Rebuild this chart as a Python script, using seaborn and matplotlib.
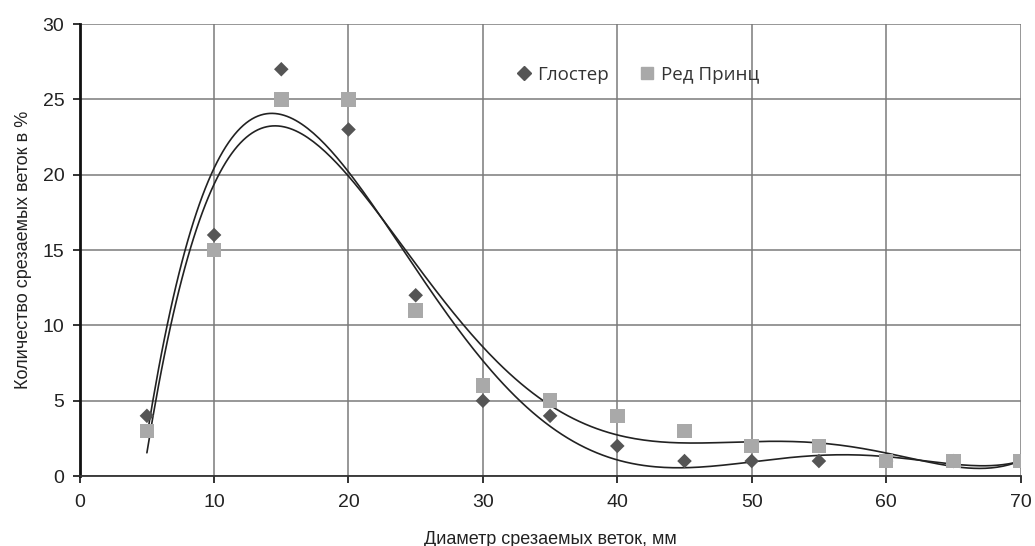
import matplotlib
matplotlib.use("Agg")
import matplotlib.pyplot as plt
import numpy as np
import pandas as pd
import seaborn as sns

DIAMETER = [5, 10, 15, 20, 25, 30, 35, 40, 45, 50, 55, 60, 65, 70]
GLOSTER = [4, 16, 27, 23, 12, 5, 4, 2, 1, 1, 1, 1, 1, 1]
RED_PRINCE = [3, 15, 25, 25, 11, 6, 5, 4, 3, 2, 2, 1, 1, 1]
SERIES_NAMES = ["Глостер", "Ред Принц"]
X_TICKS = [0, 10, 20, 30, 40, 50, 60, 70]
Y_TICKS = [0, 5, 10, 15, 20, 25, 30]
TREND_ORDER = 5


def build_frame() -> pd.DataFrame:
    rows = []
    for name, values in zip(SERIES_NAMES, [GLOSTER, RED_PRINCE]):
        for x, y in zip(DIAMETER, values):
            rows.append({"diameter": x, "share": y, "variety": name})
    return pd.DataFrame(rows)


def main() -> None:
    sns.set_theme(style="white")
    plt.rcParams["font.family"] = ["Liberation Sans", "DejaVu Sans"]

    df = build_frame()
    fig, ax = plt.subplots(figsize=(10.35, 5.46), dpi=100)
    fig.subplots_adjust(left=0.077, right=0.986, top=0.956, bottom=0.128)

    # polynomial trendlines, as in the spreadsheet original
    xs = np.linspace(5.0, 70, 300)
    for name in SERIES_NAMES:
        sub = df[df["variety"] == name]
        coef = np.polyfit(sub["diameter"], sub["share"], TREND_ORDER)
        ax.plot(xs, np.polyval(coef, xs), color="#222222", lw=1.2, zorder=3)

    sns.scatterplot(
        data=df, x="diameter", y="share", hue="variety", style="variety",
        markers={"Глостер": "D", "Ред Принц": "s"},
        palette={"Глостер": "#555555", "Ред Принц": "#a9a9a9"},
        s=80, edgecolor="none", ax=ax, zorder=4, legend=False,
    )
    ax.collections[-1].set_sizes([55 if m else 110 for m in (df["variety"] == "Глостер")])

    ax.set_xlim(0, 70)
    ax.set_ylim(0, 30)
    ax.set_xticks(X_TICKS)
    ax.set_yticks(Y_TICKS)
    ax.grid(True, color="#7a7a7a", lw=1.1)
    ax.set_axisbelow(True)
    for side in ["top", "right"]:
        ax.spines[side].set_visible(False)
    ax.spines["left"].set_color("#111111")
    ax.spines["left"].set_linewidth(2.0)
    ax.spines["bottom"].set_color("#333333")
    ax.spines["bottom"].set_linewidth(1.3)
    ax.tick_params(axis="both", direction="out", length=5, width=1.3,
                   color="#222222", labelsize=14, labelcolor="#222222",
                   left=True, bottom=True)
    ax.tick_params(axis="x", pad=8)
    ax.tick_params(axis="y", pad=6)
    ax.set_xlabel("Диаметр срезаемых веток, мм", fontsize=13, color="#222222", labelpad=14)
    ax.set_ylabel("Количество срезаемых веток в %", fontsize=13, color="#222222", labelpad=8)

    handles = [
        plt.Line2D([], [], marker="D", ls="none", color="#555555", markersize=7),
        plt.Line2D([], [], marker="s", ls="none", color="#a9a9a9", markersize=9),
    ]
    ax.legend(handles, SERIES_NAMES, loc="center", bbox_to_anchor=(0.593, 0.888),
              ncol=2, frameon=False, handlelength=0.8, handletextpad=0.35,
              columnspacing=1.6,
              prop={"family": ["Open Sans", "DejaVu Sans"], "size": 13.5},
              labelcolor="#333333")

    fig.savefig("out.png", dpi=100, facecolor="white")


if __name__ == "__main__":
    main()
